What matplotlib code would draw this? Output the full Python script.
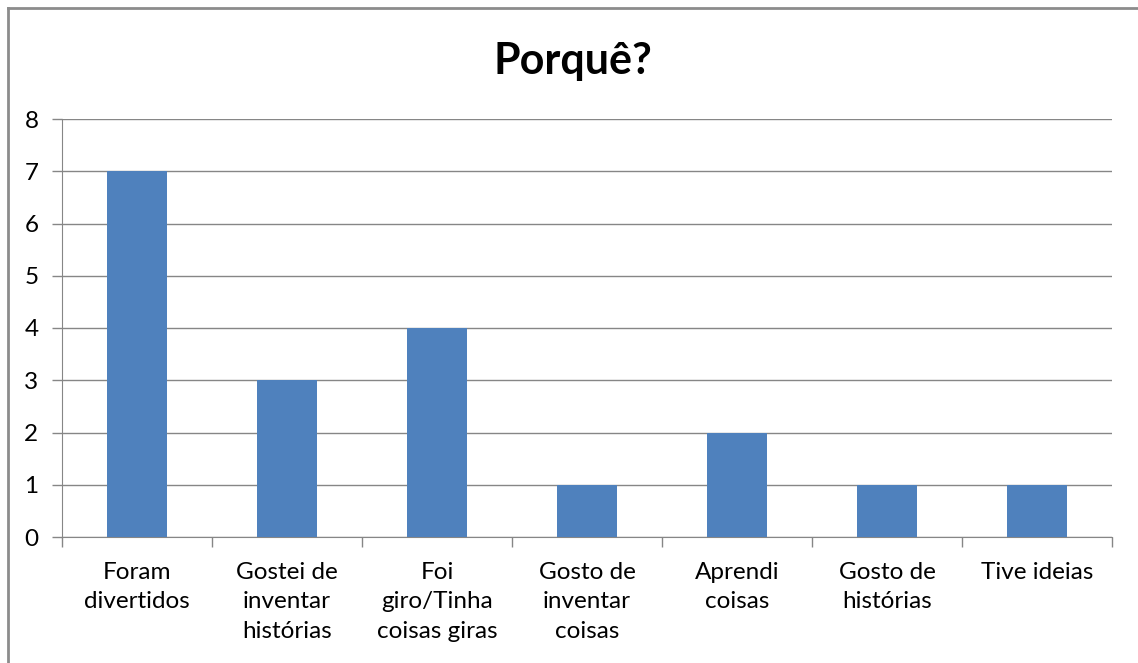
import matplotlib.pyplot as plt
from matplotlib.lines import Line2D

categorias = ["Foram\ndivertidos", "Gostei de\ninventar\nhistórias", "Foi\ngiro/Tinha\ncoisas giras",
              "Gosto de\ninventar\ncoisas", "Aprendi\ncoisas", "Gosto de\nhistórias", "Tive ideias"]
valores = [7, 3, 4, 1, 2, 1, 1]

plt.rcParams['font.family'] = ['Lato', 'DejaVu Sans']

fig = plt.figure(figsize=(11.38, 6.63), dpi=100)
ax = fig.add_axes([62/1138, 1 - 537/663, (1112 - 62)/1138, (537 - 119)/663])

x = range(len(categorias))
ax.bar(x, valores, width=0.4, color='#4F81BD', zorder=3)

ax.set_ylim(0, 8)
ax.set_xlim(-0.5, len(categorias) - 0.5)
ax.set_yticks(range(0, 9))
ax.yaxis.grid(True, color='#868686', linewidth=1)
ax.set_axisbelow(True)

ax.set_xticks(list(x))
ax.set_xticklabels(categorias, fontsize=17.5, linespacing=1.5)
ax.tick_params(axis='x', length=0, pad=18)
ax.set_xticks([i - 0.5 for i in range(len(categorias) + 1)], minor=True)
ax.tick_params(axis='x', which='minor', length=7, color='#868686', width=1)
ax.tick_params(axis='y', length=7, color='#868686', width=1, labelsize=17.5, pad=10)

for s in ['top', 'right']:
    ax.spines[s].set_visible(False)
for s in ['left', 'bottom']:
    ax.spines[s].set_color('#868686')

fig.text(573/1138, 1 - 61/663, "Porquê?", fontsize=31, fontweight='bold', ha='center', va='center')

# moldura do gráfico
fig.add_artist(Line2D([7.5/1138, 7.5/1138], [0, 1 - 7.5/663], color='#8C8C8C', linewidth=2))
fig.add_artist(Line2D([7.5/1138, 1], [1 - 7.5/663, 1 - 7.5/663], color='#8C8C8C', linewidth=2))

plt.savefig("out.png")
